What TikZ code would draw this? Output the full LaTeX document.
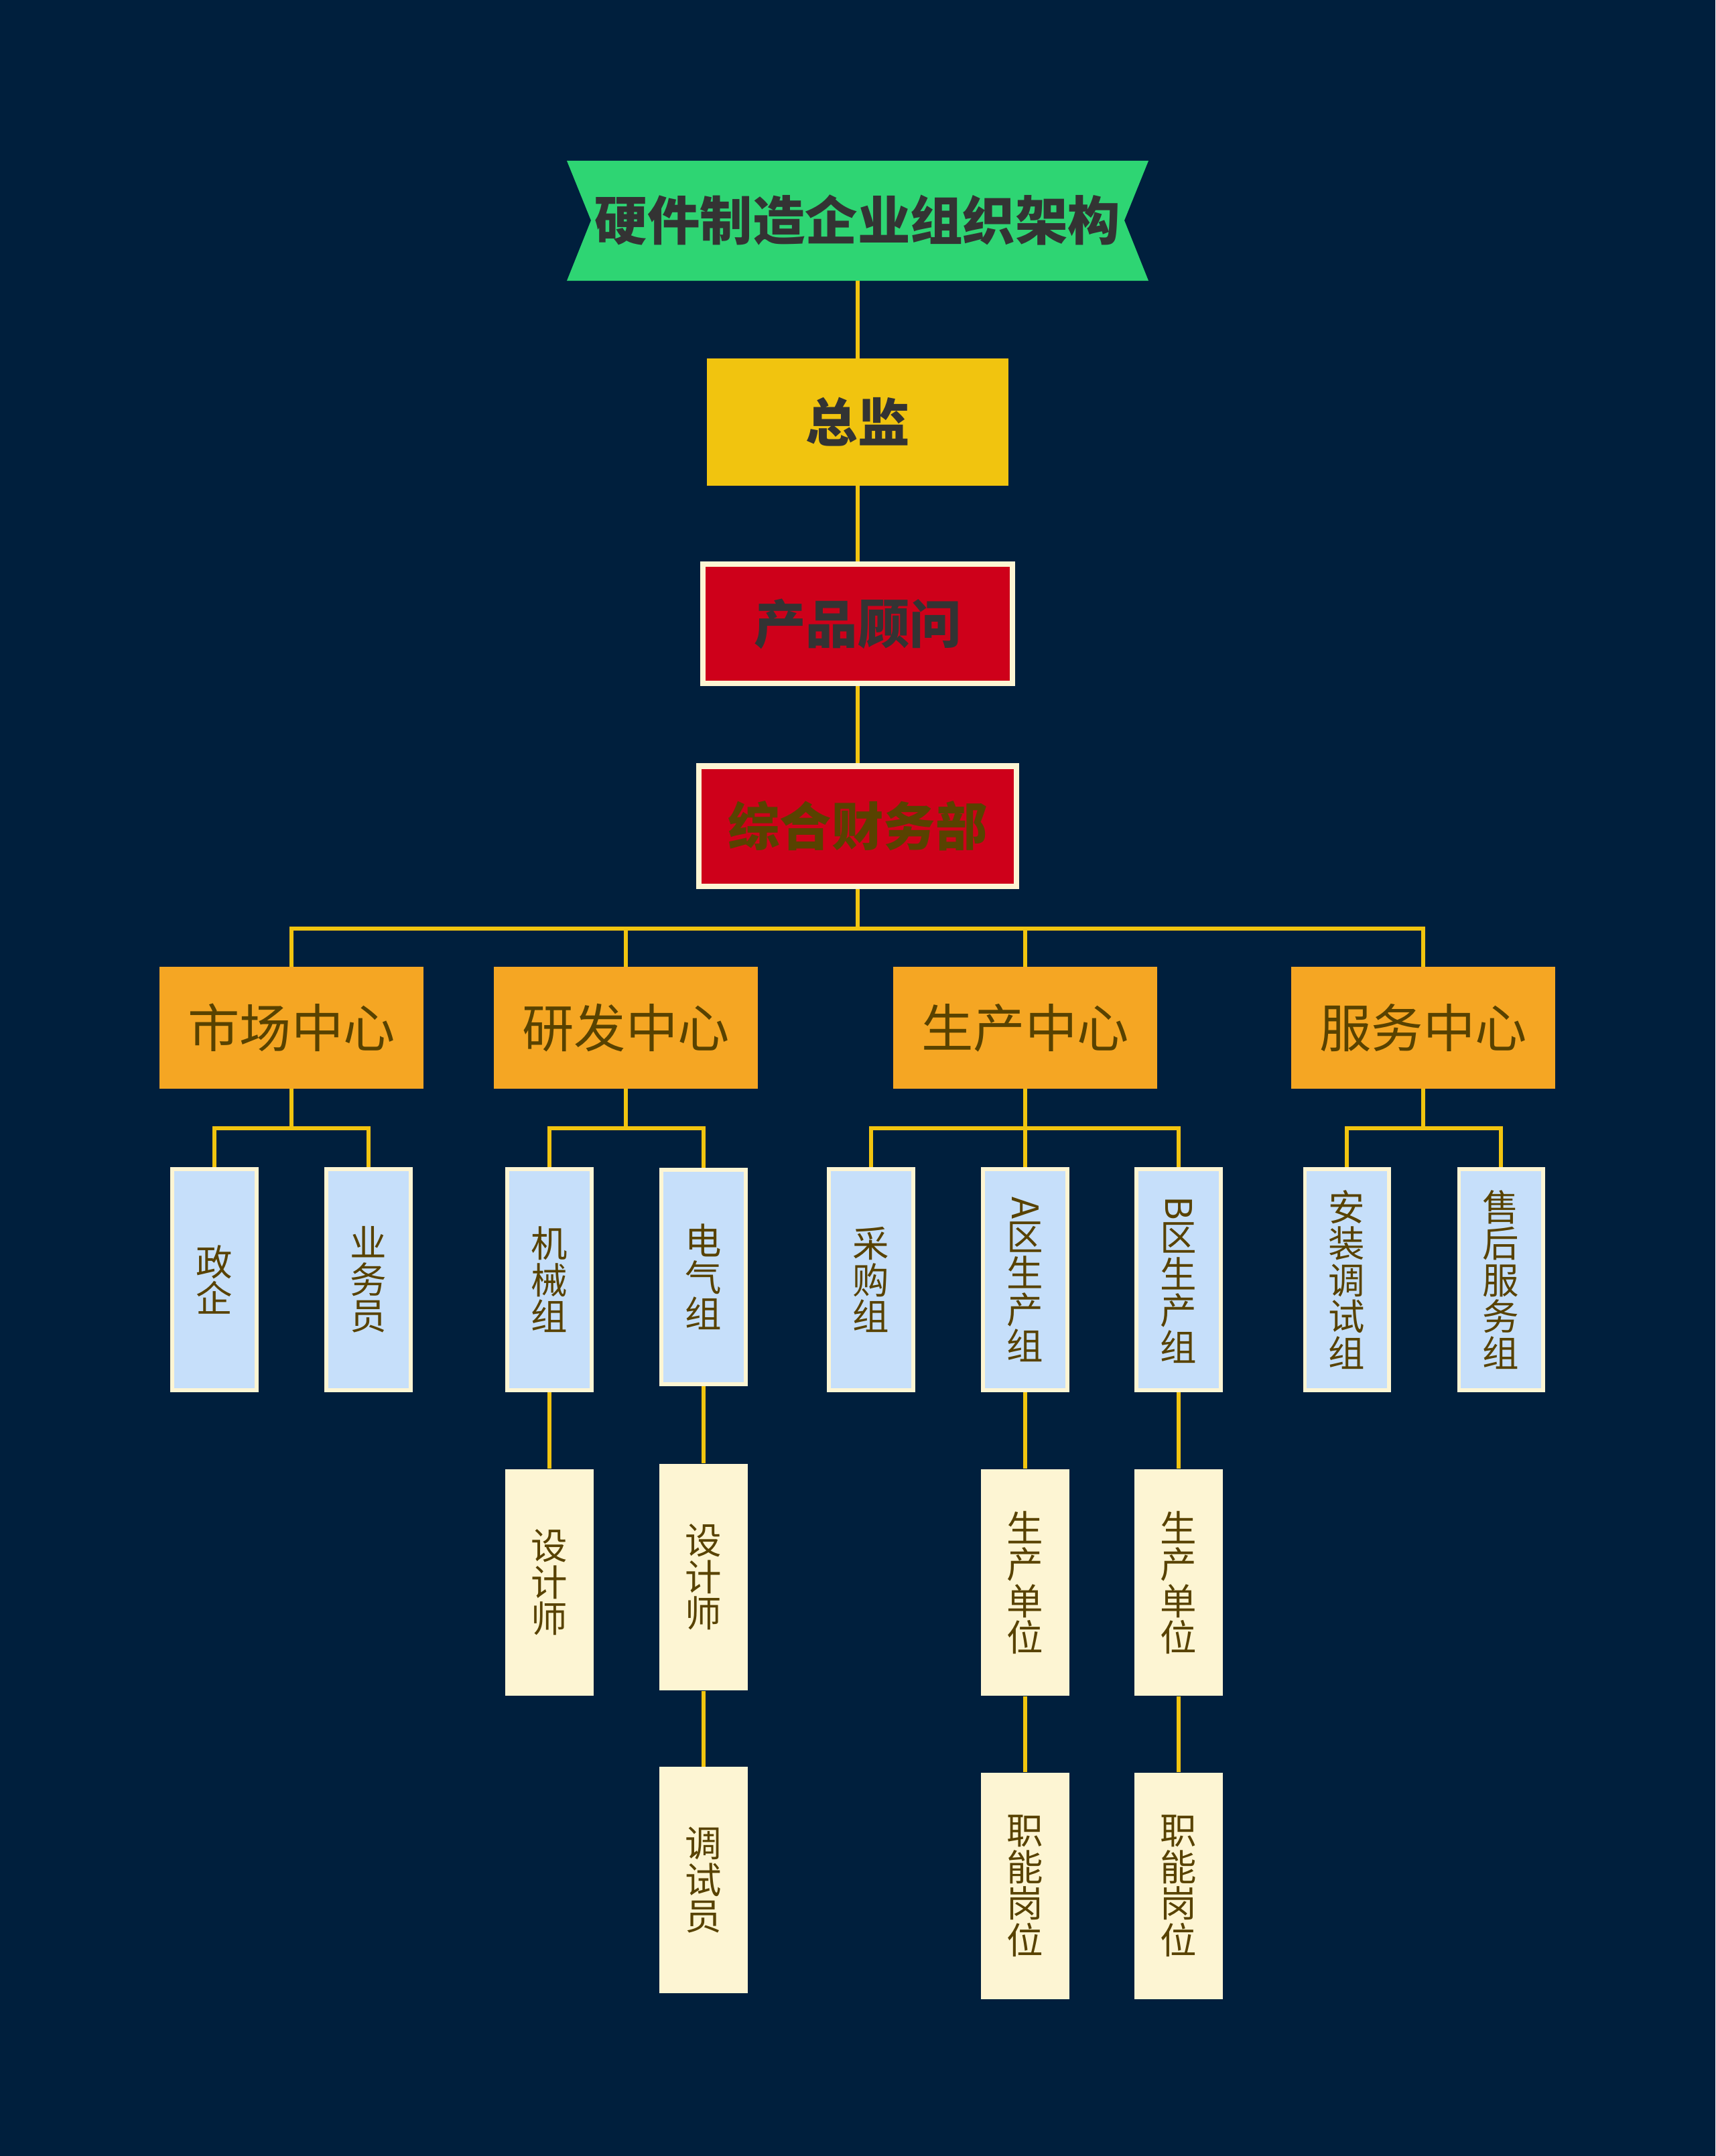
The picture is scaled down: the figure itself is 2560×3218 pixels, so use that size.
\documentclass[tikz,border=0pt]{standalone}
\usepackage{fontspec}
\newfontfamily\cjk{Noto Sans CJK SC}
\definecolor{navy}{RGB}{0,31,61}
\definecolor{bannergreen}{RGB}{46,213,115}
\definecolor{gold}{RGB}{241,196,15}
\definecolor{crimson}{RGB}{206,0,26}
\definecolor{cream}{RGB}{253,245,211}
\definecolor{amber}{RGB}{245,166,35}
\definecolor{skyblue}{RGB}{198,223,250}
\definecolor{olive}{RGB}{88,66,0}
\definecolor{darkgray}{RGB}{51,51,51}
\begin{document}
\begin{tikzpicture}[x=0.01cm, y=-0.01cm,
  link/.style={draw=gold, line width=1.7pt},
  elbow/.style={to path={(\tikztostart) -- ++(0,59) -| (\tikztotarget)}},
  big/.style={font=\cjk\fontsize{22}{22}\selectfont, inner sep=0pt},
  boss/.style={big, font=\cjk\bfseries\fontsize{22}{22}\selectfont, fill=gold, text=darkgray,
    minimum width=4.5cm, minimum height=1.89cm},
  redbox/.style={big, font=\cjk\bfseries\fontsize{22}{22}\selectfont, fill=crimson, draw=cream,
    line width=2.3pt},
  hub/.style={big, fill=amber, text=olive, minimum width=3.94cm, minimum height=1.81cm},
  grp/.style={font=\cjk\fontsize{15.5}{15.5}\selectfont, inner sep=0pt, align=center,
    fill=skyblue, draw=cream, line width=1.7pt, text=olive,
    minimum width=1.25cm, minimum height=3.29cm},
  post/.style={font=\cjk\fontsize{15.5}{15.5}\selectfont, inner sep=0pt, align=center,
    fill=cream, text=olive, minimum width=1.31cm, minimum height=3.38cm}]

  \fill[navy] (0,0) rectangle (2560,3218);
  \useasboundingbox (0,0) rectangle (2560,3218);

  % banner
  \fill[bannergreen] (846,240) -- (1714,240) -- (1678,329) -- (1714,419)
    -- (846,419) -- (882,329) -- cycle;
  \node[big, font=\cjk\bfseries\fontsize{22.3}{22.3}\selectfont, text=darkgray] (title) at (1280,329)
    [minimum width=8.68cm, minimum height=1.79cm] {硬件制造企业组织架构};

  \node[boss] (boss) at (1280,630) {总监};
  \node[redbox, text=darkgray, minimum width=4.62cm, minimum height=1.78cm] (advisor) at (1280,931) {产品顾问};
  \node[redbox, text=olive, minimum width=4.74cm, minimum height=1.79cm] (finance) at (1280,1233) {综合财务部};

  % centers
  \node[hub] (market) at (435,1534) {市场中心};
  \node[hub] (rnd) at (934,1534) {研发中心};
  \node[hub] (prod) at (1530,1534) {生产中心};
  \node[hub] (service) at (2124,1534) {服务中心};

  % groups
  \node[grp] (gov) at (320,1910) {政\\企};
  \node[grp] (sales) at (550,1910) {业\\务\\员};
  \node[grp] (mech) at (820,1910) {机\\械\\组};
  \node[grp, minimum height=3.20cm] (elec) at (1050,1906) {电\\气\\组};
  \node[grp] (buy) at (1300,1910) {采\\购\\组};
  \node[grp] (zonea) at (1530,1910) {\rotatebox{-90}{A}\\区\\生\\产\\组};
  \node[grp] (zoneb) at (1759,1910) {\rotatebox{-90}{B}\\区\\生\\产\\组};
  \node[grp] (setup) at (2010,1910) {安\\装\\调\\试\\组};
  \node[grp] (after) at (2240,1910) {售\\后\\服\\务\\组};

  % posts
  \node[post] (mdes) at (820,2362) {设\\计\\师};
  \node[post] (edes) at (1050,2354) {设\\计\\师};
  \node[post, minimum height=3.37cm] (etest) at (1050,2806) {调\\试\\员};
  \node[post] (aunit) at (1530,2362) {生\\产\\单\\位};
  \node[post] (ajob) at (1530,2815) {职\\能\\岗\\位};
  \node[post] (bunit) at (1759,2362) {生\\产\\单\\位};
  \node[post] (bjob) at (1759,2815) {职\\能\\岗\\位};

  % links
  \draw[link] (title.south) -- (boss.north);
  \draw[link] (boss.south) -- (advisor.north);
  \draw[link] (advisor.south) -- (finance.north);
  \foreach \c in {market,rnd,prod,service}
    \draw[link] (finance.south) to[elbow] (\c.north);
  \draw[link] (market.south) to[elbow] (gov.north);
  \draw[link] (market.south) to[elbow] (sales.north);
  \draw[link] (rnd.south) to[elbow] (mech.north);
  \draw[link] (rnd.south) to[elbow] (elec.north);
  \foreach \g in {buy,zonea,zoneb}
    \draw[link] (prod.south) to[elbow] (\g.north);
  \draw[link] (service.south) to[elbow] (setup.north);
  \draw[link] (service.south) to[elbow] (after.north);
  \draw[link] (mech.south) -- (mdes.north);
  \draw[link] (elec.south) -- (edes.north);
  \draw[link] (edes.south) -- (etest.north);
  \draw[link] (zonea.south) -- (aunit.north);
  \draw[link] (aunit.south) -- (ajob.north);
  \draw[link] (zoneb.south) -- (bunit.north);
  \draw[link] (bunit.south) -- (bjob.north);
\end{tikzpicture}
\end{document}
